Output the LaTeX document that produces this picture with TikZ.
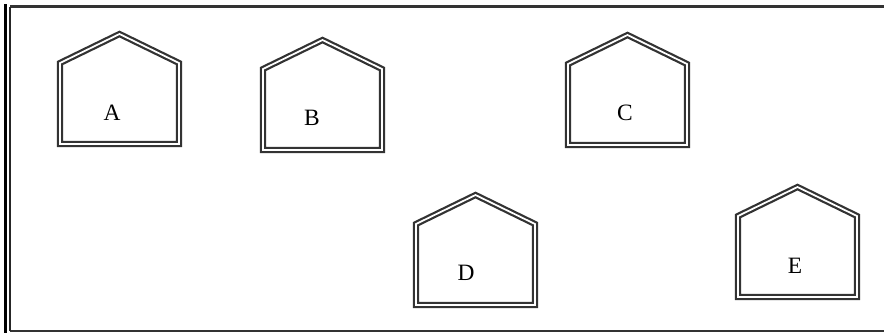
\documentclass[tikz,border=0pt]{standalone}
\usepackage{fontspec}
\setmainfont{Liberation Serif}
\usetikzlibrary{calc}

\tikzset{
  housewall/.style={draw=black!80, line width=1.9pt, double=white, double distance=1.5pt, line join=miter},
  housename/.style={font=\fontsize{20}{24}\selectfont, inner sep=0pt},
  frameline/.style={draw=black!80, line width=2.2pt}
}

\begin{document}
\begin{tikzpicture}[x=0.03cm, y=-0.03cm]
        \useasboundingbox (0,0) rectangle (884,333);

        % frame round the picture
        \coordinate (ftl) at (10,6.5);
        \coordinate (ftr) at (884,6.5);
        \coordinate (fbl) at (10,331);
        \coordinate (fbr) at (884,331);
        \draw[frameline] (ftl) -- (ftr);
        \draw[frameline] (fbl) -- (fbr);
        \draw[black!85, line width=1.3pt] (ftl) -- (fbl);
        \draw[black, line width=3.2pt] (5.5,4) -- (5.5,333);

        % houses: name / left / bottom / label x / label y
        \foreach \name/\lx/\by/\tx/\ty in {A/57/147/112/113, B/260/153/312/118,
                                          C/565/148/625/113, D/413/308/466/273,
                                          E/735/300/795/266}{
          \draw[housewall] (\lx+3,\by-3) -- ++(0,-81) -- ++(59.5,-29)
                           -- ++(59.5,29) -- ++(0,81) -- cycle;
          \node[housename] (\name) at (\tx,\ty) {\name};
        }
      \end{tikzpicture}
\end{document}
